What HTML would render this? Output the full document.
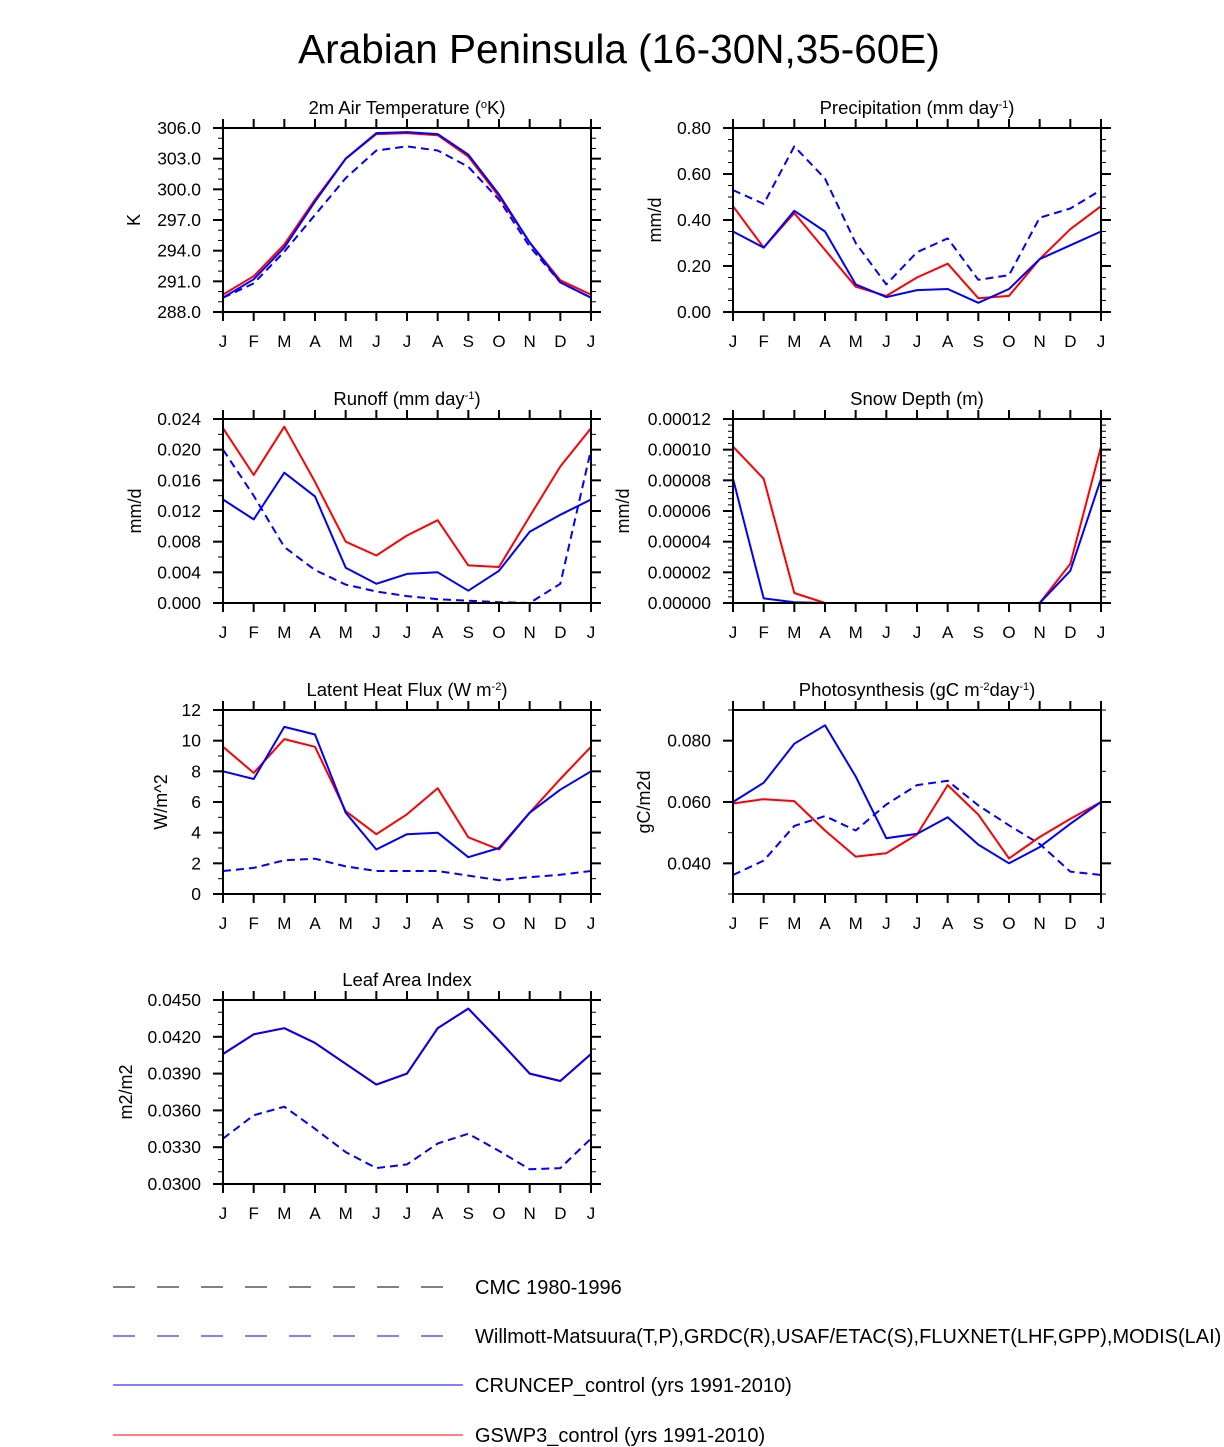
<!DOCTYPE html>
<html><head><meta charset="utf-8">
<style>
body{margin:0;background:#fff;overflow:hidden;}
svg{display:block;font-family:"Liberation Sans",Arial,sans-serif;}
</style></head>
<body>
<svg id="root" width="1224" height="1447" viewBox="0 0 1224 1447" xmlns="http://www.w3.org/2000/svg">
<rect width="1224" height="1447" fill="#fff"/>
<text x="619" y="63" font-size="40.5" text-anchor="middle">Arabian Peninsula (16-30N,35-60E)</text>
</svg>
<script>
const months = ["J","F","M","A","M","J","J","A","S","O","N","D","J"];
// Panel 1: temperature
const tempRed = [289.7,291.5,294.6,299.0,303.0,305.4,305.5,305.3,303.2,299.3,294.8,291.1,289.7];
const tempBlue = [289.4,291.2,294.3,298.8,303.0,305.5,305.6,305.4,303.4,299.5,294.8,290.9,289.4];
const tempObs = [289.4,290.8,293.9,297.5,301.1,303.8,304.2,303.8,302.2,299.0,294.4,290.9,289.4];
const tempTicks = ["288.0","291.0","294.0","297.0","300.0","303.0","306.0"];
// Panel 2: precipitation
const precRed = [0.46,0.28,0.43,0.27,0.11,0.07,0.15,0.21,0.06,0.07,0.23,0.36,0.46];
const precBlue = [0.35,0.28,0.44,0.35,0.12,0.065,0.095,0.10,0.04,0.10,0.23,0.29,0.35];
const precObs = [0.53,0.47,0.72,0.58,0.30,0.12,0.26,0.32,0.14,0.16,0.41,0.45,0.53];
const precTicks = ["0.00","0.20","0.40","0.60","0.80"];
// Panel 3: runoff
const runRed = [0.0228,0.0167,0.0230,0.0158,0.0080,0.0062,0.0088,0.0108,0.0049,0.0047,0.0113,0.0178,0.0228];
const runBlue = [0.0135,0.0109,0.0170,0.0139,0.0046,0.0025,0.0038,0.0040,0.0016,0.0042,0.0093,0.0115,0.0135];
const runObs = [0.0200,0.0140,0.0073,0.0043,0.0024,0.0015,0.0009,0.0005,0.0003,0.0001,0.0000,0.0025,0.0200];
const runTicks = ["0.000","0.004","0.008","0.012","0.016","0.020","0.024"];
// Panel 4: snow depth
const snowRed = [0.000102,0.000081,0.0000065,0,0,0,0,0,0,0,0,0.0000255,0.000102];
const snowBlue = [0.000081,0.000003,0.0000005,0,0,0,0,0,0,0,0,0.000021,0.000081];
const snowCmc = [0,0,0,0,0,0,0,0,0,0,0,0,0];
const snowTicks = ["0.00000","0.00002","0.00004","0.00006","0.00008","0.00010","0.00012"];
// Panel 5: latent heat
const lhRed = [9.6,7.9,10.1,9.6,5.4,3.9,5.2,6.9,3.7,2.9,5.3,7.5,9.6];
const lhBlue = [8.0,7.5,10.9,10.4,5.3,2.9,3.9,4.0,2.4,3.0,5.3,6.8,8.0];
const lhObs = [1.5,1.7,2.2,2.3,1.8,1.5,1.5,1.5,1.2,0.9,1.1,1.25,1.5];
const lhTicks = ["0","2","4","6","8","10","12"];
// Panel 6: photosynthesis
const gppRed = [0.0595,0.0609,0.0603,0.0507,0.0422,0.0433,0.0494,0.0655,0.0559,0.0416,0.0486,0.0545,0.0600];
const gppBlue = [0.0600,0.0663,0.0790,0.0850,0.0683,0.0482,0.0496,0.0550,0.0461,0.0400,0.0453,0.0529,0.0600];
const gppObs = [0.0362,0.0409,0.0522,0.0554,0.0507,0.0592,0.0655,0.0669,0.0589,0.0524,0.0463,0.0373,0.0362];
const gppTicks = ["0.040","0.060","0.080"];
// Panel 7: LAI
const laiRed = [0.0406,0.0422,0.0427,0.0415,0.0398,0.0381,0.0390,0.0427,0.0443,0.0417,0.0390,0.0384,0.0406];
const laiBlue = [0.0406,0.0422,0.0427,0.0415,0.0398,0.0381,0.0390,0.0427,0.0443,0.0417,0.0390,0.0384,0.0406];
const laiObs = [0.0337,0.0356,0.0363,0.0345,0.0326,0.0313,0.0316,0.0333,0.0341,0.0327,0.0312,0.0313,0.0337];
const laiTicks = ["0.0300","0.0330","0.0360","0.0390","0.0420","0.0450"];

const NS = "http://www.w3.org/2000/svg";
const root = document.getElementById("root");
function mk(tag, attrs, parent){
  const e = document.createElementNS(NS, tag);
  for (const k in attrs) e.setAttribute(k, attrs[k]);
  (parent||root).appendChild(e);
  return e;
}
const W = 368, H = 184;
function panel(cfg){
  const g = mk("g", {});
  
  
  const x0 = cfg.x, y0 = cfg.y;
  const xs = i => x0 + i * W / 12;
  const ys = v => y0 + H - (v - cfg.min) / (cfg.max - cfg.min) * H;
  const t = mk("text", {x: x0 + W/2, y: y0 - 14, "font-size": 18.5, "text-anchor": "middle"}, g);
  
  
  t.innerHTML = cfg.title;
  const yt = mk("text", {x: 0, y: 0, "font-size": 18, "text-anchor": "middle",
    transform: `translate(${cfg.ytx},${y0 + H/2}) rotate(-90)`}, g);
  
  
  yt.textContent = cfg.ytitle;
  for (let i = 0; i < 13; i++) {
    const x = xs(i);
    mk("line", {x1: x, x2: x, y1: y0 + H, y2: y0 + H + 9, stroke: "#000", "stroke-width": 2}, g);
    mk("line", {x1: x, x2: x, y1: y0, y2: y0 - 9, stroke: "#000", "stroke-width": 2}, g);
    const lb = mk("text", {x: x, y: y0 + H + 35, "font-size": 17, "text-anchor": "middle"}, g);
    
    
    lb.textContent = months[i];
  }
  const n = cfg.ticks.length;
  for (let k = 0; k < n; k++) {
    const v = parseFloat(cfg.ticks[k]);
    const y = ys(v);
    mk("line", {x1: x0 - 10, x2: x0, y1: y, y2: y, stroke: "#000", "stroke-width": 2}, g);
    mk("line", {x1: x0 + W, x2: x0 + W + 10, y1: y, y2: y, stroke: "#000", "stroke-width": 2}, g);
    const lb = mk("text", {x: x0 - 22, y: y + 6, "font-size": 17.5, "text-anchor": "end"}, g);
    
    
    lb.textContent = cfg.ticks[k];
  }
  const step = parseFloat(cfg.ticks[1]) - parseFloat(cfg.ticks[0]);
  const ms = step / cfg.minor;
  for (let v = cfg.min; v <= cfg.max + 1e-12; v += ms) {
    const y = ys(v);
    mk("line", {x1: x0 - 5, x2: x0, y1: y, y2: y, stroke: "#000", "stroke-width": 1}, g);
    mk("line", {x1: x0 + W, x2: x0 + W + 5, y1: y, y2: y, stroke: "#000", "stroke-width": 1}, g);
  }
  for (const s of cfg.series) {
    const pts = s.data.map((v, i) => xs(i).toFixed(1) + "," + ys(v).toFixed(1)).join(" ");
    const pl = mk("polyline", {points: pts, fill: "none", stroke: s.color, "stroke-width": 2,
      "stroke-dasharray": s.dash || "none", "stroke-linejoin": "round"}, g);
    
    
  }
  mk("rect", {x: x0, y: y0, width: W, height: H, fill: "none", stroke: "#000", "stroke-width": 2}, g);
}
const L = 223, R = 733;
const sup = s => `<tspan baseline-shift="super" font-size="11">${s}</tspan>`;
panel({name:"temperature-panel", x:L, y:128, min:288, max:306, ticks:tempTicks, minor:3, ytx:140,
  title:'2m Air Temperature ('+sup('o')+'K)', ytitle:"K",
  series:[{name:"obs-line",data:tempObs,color:"#00f",dash:"8 5"},{name:"gswp3-line",data:tempRed,color:"#f00"},{name:"cruncep-line",data:tempBlue,color:"#00f"}]});
panel({name:"precipitation-panel", x:R, y:128, min:0, max:0.8, ticks:precTicks, minor:4, ytx:661,
  title:'Precipitation (mm day'+sup('-1')+')', ytitle:"mm/d",
  series:[{name:"obs-line",data:precObs,color:"#00f",dash:"8 5"},{name:"gswp3-line",data:precRed,color:"#f00"},{name:"cruncep-line",data:precBlue,color:"#00f"}]});
panel({name:"runoff-panel", x:L, y:419, min:0, max:0.024, ticks:runTicks, minor:2, ytx:141,
  title:'Runoff (mm day'+sup('-1')+')', ytitle:"mm/d",
  series:[{name:"obs-line",data:runObs,color:"#00f",dash:"8 5"},{name:"gswp3-line",data:runRed,color:"#f00"},{name:"cruncep-line",data:runBlue,color:"#00f"}]});
panel({name:"snow-depth-panel", x:R, y:419, min:0, max:0.00012, ticks:snowTicks, minor:5, ytx:629,
  title:'Snow Depth (m)', ytitle:"mm/d",
  series:[{name:"gswp3-line",data:snowRed,color:"#f00"},{name:"cruncep-line",data:snowBlue,color:"#00f"},{name:"cmc-line",data:snowCmc,color:"#000",dash:"8 5"}]});
panel({name:"latent-heat-panel", x:L, y:710, min:0, max:12, ticks:lhTicks, minor:2, ytx:167,
  title:'Latent Heat Flux (W m'+sup('-2')+')', ytitle:"W/m^2",
  series:[{name:"obs-line",data:lhObs,color:"#00f",dash:"8 5"},{name:"gswp3-line",data:lhRed,color:"#f00"},{name:"cruncep-line",data:lhBlue,color:"#00f"}]});
panel({name:"photosynthesis-panel", x:R, y:710, min:0.03, max:0.09, ticks:gppTicks, minor:2, ytx:650,
  title:'Photosynthesis (gC m'+sup('-2')+'day'+sup('-1')+')', ytitle:"gC/m2d",
  series:[{name:"obs-line",data:gppObs,color:"#00f",dash:"8 5"},{name:"gswp3-line",data:gppRed,color:"#f00"},{name:"cruncep-line",data:gppBlue,color:"#00f"}]});
panel({name:"lai-panel", x:L, y:1000, min:0.03, max:0.045, ticks:laiTicks, minor:3, ytx:132,
  title:'Leaf Area Index', ytitle:"m2/m2",
  series:[{name:"obs-line",data:laiObs,color:"#00f",dash:"8 5"},{name:"gswp3-line",data:laiRed,color:"#f00"},{name:"cruncep-line",data:laiBlue,color:"#00f"}]});
const legend = [
  {y:1287, color:"#000", dash:"22 22", x2:443, text:"CMC 1980-1996"},
  {y:1336, color:"#00f", dash:"22 22", x2:443, text:"Willmott-Matsuura(T,P),GRDC(R),USAF/ETAC(S),FLUXNET(LHF,GPP),MODIS(LAI)"},
  {y:1385, color:"#00f", dash:"none", x2:463, text:"CRUNCEP_control (yrs 1991-2010)"},
  {y:1435, color:"#f00", dash:"none", x2:463, text:"GSWP3_control (yrs 1991-2010)"}
];
const lg = mk("g", {});


for (const e of legend) {
  const ln = mk("line", {x1:113, x2:e.x2, y1:e.y, y2:e.y, stroke:e.color, "stroke-width":1, "stroke-dasharray":e.dash}, lg);
  
  
  const tx = mk("text", {x:475, y:e.y + 7, "font-size":20}, lg);
  
  
  tx.textContent = e.text;
}
</script>
</body></html>
